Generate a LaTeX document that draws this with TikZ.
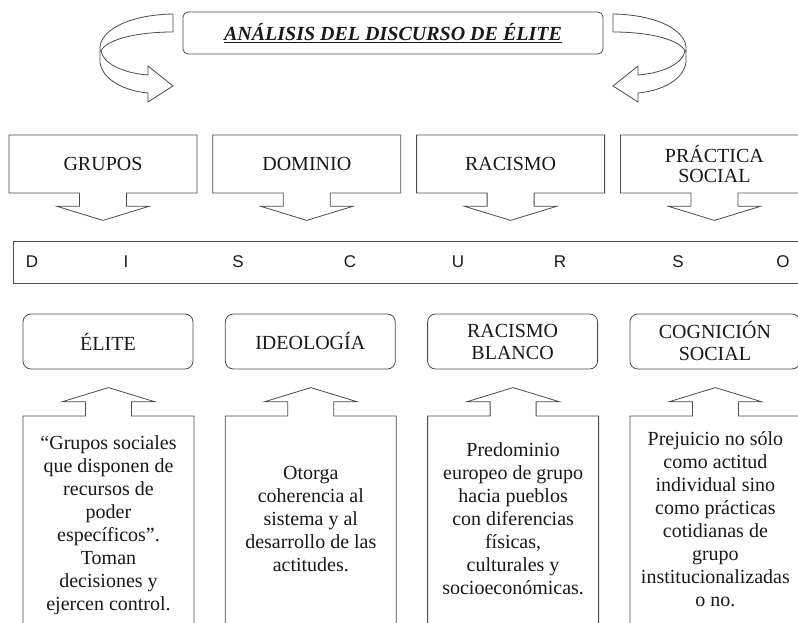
\documentclass[tikz,border=0pt]{standalone}
\usepackage{fontspec}
\setmainfont{Liberation Serif}
\newfontfamily\barfont{Liberation Sans}
\usetikzlibrary{shapes.arrows, positioning}
\definecolor{edge}{gray}{0.3}
\tikzset{
  outline/.style = {draw = edge, line width = 0.8pt, fill = white, text = black!90, align = center, inner sep = 0pt},
  downbox/.style = {outline, arrow box, minimum width = 188pt, minimum height = 58pt,
    arrow box north arrow = -1pt, arrow box east arrow = -1pt, arrow box west arrow = -1pt,
    arrow box south arrow = 27pt, arrow box shaft width = 47pt, arrow box head extend = 22.5pt,
    arrow box tip angle = 146, font = \fontsize{20}{20.5}\selectfont},
  upbox/.style = {outline, arrow box, minimum width = 171pt, minimum height = 230pt,
    arrow box north arrow = 28pt, arrow box east arrow = -1pt, arrow box west arrow = -1pt,
    arrow box south arrow = -1pt, arrow box shaft width = 46pt, arrow box head extend = 23.5pt,
    arrow box tip angle = 146},
  tagbox/.style = {outline, rounded corners = 8pt, minimum width = 170pt, minimum height = 55pt,
    font = \fontsize{20}{22}\selectfont},
  body/.style = {align = center, text = black!90, font = \fontsize{20}{23}\selectfont},
  letter/.style = {text = black!90, font = \barfont\fontsize{17}{17}\selectfont},
  curl/.style = {draw = edge, line width = 0.8pt, fill = white, line join = round}
}

\begin{document}
\begin{tikzpicture}[x = 1pt, y = -1pt]
  \clip (0,0) rectangle (798,623);

  % title and the two curling arrows
  \node [outline, rounded corners = 5pt, minimum width = 420pt, minimum height = 42pt,
    font = \bfseries\itshape\fontsize{20}{20}\selectfont] (title) at (393,33) {\underline{ANÁLISIS DEL DISCURSO DE ÉLITE}};
  \foreach \s/\o in {1/0, -1/786}
    \draw [curl, shift = {(\o,0)}, xscale = \s] (173,14) .. controls (125,15) and (100,32) .. (100,48)
      -- (100,62) .. controls (102,80) and (125,91) .. (148,93) -- (148,102) -- (173,86) -- (148,66)
      -- (148,75) .. controls (122,73) and (103,63) .. (101,51) .. controls (106,40) and (135,32) .. (173,32) -- cycle;

  % upper row
  \node [downbox]                        (grupos)   at (103,164) {GRUPOS};
  \node [downbox, right = 15pt of grupos]  (dominio)  {DOMINIO};
  \node [downbox, right = 15pt of dominio] (racismo)  {RACISMO};
  \node [downbox, right = 15pt of racismo] (practica) {PRÁCTICA\\SOCIAL};

  % the bar
  \node [outline, minimum width = 792pt, minimum height = 42pt] (bar) at (409,262) {};
  \foreach \x/\l [count = \i] in {32/D, 126/I, 238/S, 350/C, 458/U, 560/R, 678/S, 783/O}
    \node [letter] (l\i) at (\x,262) {\l};

  % lower row
  \node [tagbox]                            (elite)     at (108,341.5) {ÉLITE};
  \node [tagbox, right = 31.5pt of elite]     (ideologia) {IDEOLOGÍA};
  \node [tagbox, right = 31.5pt of ideologia] (blanco)    {RACISMO\\BLANCO};
  \node [tagbox, right = 31.5pt of blanco]    (cognicion) {COGNICIÓN\\SOCIAL};

  \node [upbox]                             (eliteup)     at (108.5,531) {};
  \node [upbox, right = 30.5pt of eliteup]     (ideologiaup) {};
  \node [upbox, right = 30.5pt of ideologiaup] (blancoup)    {};
  \node [upbox, right = 30.5pt of blancoup]    (cognicionup) {};

  \node [body] (elitetxt) at ([yshift = 6pt] eliteup.center)
    {“Grupos sociales\\que disponen de\\recursos de\\poder\\específicos”.\\Toman\\decisiones y\\ejercen control.};
  \node [body] (ideologiatxt) at ([yshift = 12pt] ideologiaup.center)
    {Otorga\\coherencia al\\sistema y al\\desarrollo de las\\actitudes.};
  \node [body] (blancotxt) at ([yshift = 12pt] blancoup.center)
    {Predominio\\europeo de grupo\\hacia pueblos\\con diferencias\\físicas,\\culturales y\\socioeconómicas.};
  \node [body] (cogniciontxt) at ([yshift = 12pt] cognicionup.center)
    {Prejuicio no sólo\\como actitud\\individual sino\\como prácticas\\cotidianas de\\grupo\\institucionalizadas\\o no.};
\end{tikzpicture}
\end{document}
